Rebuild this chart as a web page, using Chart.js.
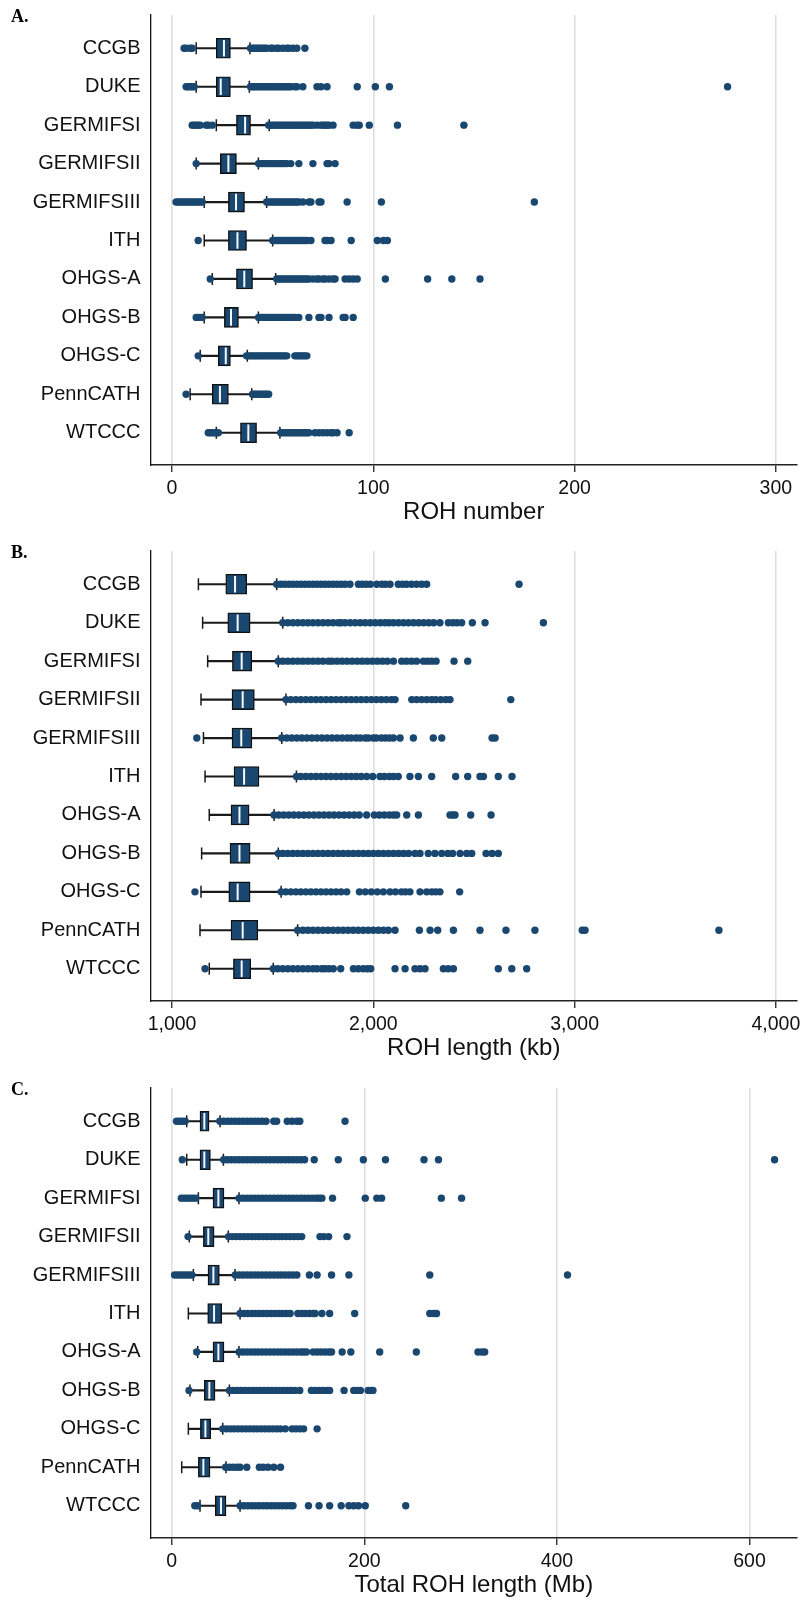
<!DOCTYPE html>
<html>
<head>
<meta charset="utf-8">
<script src="https://cdn.jsdelivr.net/npm/chart.js@4.4.0/dist/chart.umd.min.js"></script>
<style>
  html, body { margin: 0; padding: 0; background: #ffffff; }
  #wrap { position: relative; width: 803px; height: 1600px; overflow: hidden; background: #fff; }
  .pane { position: absolute; left: 0; width: 803px; }
  .letter { position: absolute; left: 11px; font: bold 18px/18px "Liberation Serif", "Times New Roman", serif; color: #000; }
</style>
</head>
<body>
<div id="wrap">
  <div class="pane" style="top:0px;height:536px;"><canvas id="cA" width="803" height="536"></canvas></div>
  <div class="pane" style="top:536px;height:537px;"><canvas id="cB" width="803" height="537"></canvas></div>
  <div class="pane" style="top:1073px;height:527px;"><canvas id="cC" width="803" height="527"></canvas></div>
  <div class="letter" style="top:7px;">A.</div>
  <div class="letter" style="top:543px;">B.</div>
  <div class="letter" style="top:1080px;">C.</div>
</div>
<script>
// ---------- categories ----------
const categories = ['CCGB', 'DUKE', 'GERMIFSI', 'GERMIFSII', 'GERMIFSIII', 'ITH', 'OHGS-A', 'OHGS-B', 'OHGS-C', 'PennCATH', 'WTCCC'];

// ---------- Panel A: ROH number ----------
const numTicks = [0, 100, 200, 300];
const numLow  = [12, 12, 22, 12, 16, 16, 20, 16, 14, 9, 22];
const numQ1   = [22, 22, 32, 24, 28, 28, 32, 26, 23, 20, 34];
const numMed  = [25.8, 24.2, 36.3, 28, 31.8, 32.5, 35.9, 29.3, 26.7, 23.8, 37.9];
const numQ3   = [29, 29, 39, 32, 36, 37, 40, 33, 29, 28, 42];
const numHigh = [38.7, 38.4, 48.3, 42.9, 47, 50, 51.5, 42.9, 37.4, 39.6, 53.6];
const numOut = [
  [6, 7, 9, 10, 39, 40, 41, 42, 43, 44, 45, 46, 47, 49, 50, 52, 53, 55, 57, 58, 60, 62, 66],
  [7, 8, 9, 10, 11, 39, 40, 41, 42, 43, 44, 45, 46, 47, 48, 49, 50, 51, 52, 53, 54, 55, 56, 57, 58, 59, 61, 62, 65, 72, 74, 77, 92, 101, 108, 276],
  [10, 11, 12, 13, 14, 17, 18, 20, 48, 49, 50, 51, 52, 53, 54, 55, 56, 57, 58, 59, 60, 61, 62, 63, 64, 65, 66, 67, 68, 69, 70, 72, 74, 75, 76, 77, 78, 80, 90, 92, 93, 98, 112, 145],
  [12, 43, 44, 45, 46, 47, 48, 49, 50, 51, 52, 53, 54, 55, 56, 57, 59, 63, 70, 77, 78, 81],
  [2, 3, 4, 5, 6, 7, 8, 9, 10, 11, 12, 13, 14, 15, 47, 48, 49, 50, 51, 52, 53, 54, 55, 56, 57, 58, 59, 60, 61, 62, 63, 65, 68, 69, 73, 74, 87, 104, 180],
  [13, 50, 51, 52, 53, 54, 55, 56, 57, 58, 59, 60, 61, 62, 63, 64, 65, 66, 67, 69, 76, 77, 79, 89, 102, 105, 107],
  [19, 52, 53, 54, 55, 56, 57, 58, 59, 60, 61, 62, 63, 64, 65, 66, 67, 68, 70, 72, 73, 75, 76, 78, 80, 81, 86, 88, 90, 92, 106, 127, 139, 153],
  [12, 13, 14, 15, 43, 44, 45, 46, 47, 48, 49, 50, 51, 52, 53, 54, 55, 56, 57, 58, 59, 60, 61, 63, 68, 73, 74, 78, 85, 86, 90],
  [13, 37, 38, 39, 40, 41, 42, 43, 44, 45, 46, 47, 48, 49, 50, 51, 52, 53, 54, 55, 56, 57, 61, 62, 63, 64, 65, 66, 67],
  [7, 40, 41, 42, 43, 44, 45, 46, 47, 48],
  [18, 19, 20, 21, 22, 23, 54, 55, 56, 57, 58, 59, 60, 61, 62, 63, 64, 65, 66, 67, 68, 71, 73, 75, 77, 79, 80, 82, 88]
];

// ---------- Panel B: ROH length (kb) ----------
const lenTicks = [1000, 2000, 3000, 4000];
const lenLow  = [1131, 1152, 1177, 1144, 1156, 1164, 1185, 1147, 1144, 1139, 1185];
const lenQ1   = [1267, 1277, 1300, 1298, 1298, 1308, 1293, 1288, 1282, 1293, 1305];
const lenMed  = [1313, 1326, 1346, 1351, 1344, 1358, 1335, 1335, 1326, 1351, 1346];
const lenQ3   = [1371, 1388, 1396, 1409, 1397, 1432, 1383, 1388, 1388, 1426, 1391];
const lenHigh = [1520, 1550, 1528, 1566, 1545, 1618, 1507, 1528, 1542, 1624, 1503];
const lenOut = [
  [1520, 1540, 1560, 1580, 1600, 1620, 1640, 1660, 1680, 1700, 1720, 1740, 1760, 1780, 1800, 1820, 1840, 1860, 1884, 1926, 1945, 1965, 1985, 2017, 2042, 2060, 2083, 2124, 2145, 2165, 2190, 2215, 2240, 2265, 2724],
  [1550, 1575, 1600, 1625, 1650, 1675, 1700, 1725, 1750, 1775, 1800, 1826, 1840, 1860, 1885, 1910, 1935, 1960, 1985, 2010, 2035, 2058, 2078, 2100, 2125, 2150, 2175, 2200, 2225, 2250, 2275, 2300, 2331, 2373, 2395, 2415, 2439, 2492, 2555, 2845],
  [1528, 1550, 1575, 1600, 1625, 1650, 1675, 1700, 1725, 1750, 1777, 1795, 1820, 1845, 1870, 1895, 1920, 1945, 1970, 1995, 2020, 2045, 2070, 2100, 2141, 2165, 2190, 2215, 2249, 2270, 2290, 2312, 2401, 2469],
  [1566, 1590, 1615, 1640, 1665, 1690, 1715, 1740, 1765, 1790, 1815, 1840, 1865, 1890, 1915, 1940, 1965, 1990, 2015, 2040, 2065, 2090, 2108, 2191, 2215, 2240, 2265, 2290, 2310, 2335, 2360, 2381, 2683],
  [1123, 1545, 1570, 1595, 1620, 1645, 1670, 1695, 1720, 1745, 1770, 1795, 1820, 1845, 1870, 1890, 1915, 1935, 1960, 1975, 2000, 2015, 2040, 2060, 2080, 2100, 2133, 2199, 2298, 2340, 2590, 2605],
  [1618, 1640, 1665, 1690, 1715, 1740, 1765, 1790, 1815, 1840, 1865, 1890, 1915, 1940, 1967, 1997, 2033, 2055, 2080, 2100, 2124, 2182, 2224, 2290, 2409, 2469, 2530, 2547, 2621, 2689],
  [1507, 1530, 1555, 1580, 1605, 1630, 1655, 1680, 1705, 1730, 1755, 1780, 1805, 1830, 1855, 1880, 1905, 1930, 1967, 2005, 2030, 2055, 2080, 2100, 2116, 2166, 2224, 2381, 2395, 2406, 2484, 2585],
  [1528, 1550, 1575, 1600, 1625, 1650, 1675, 1700, 1725, 1750, 1775, 1800, 1825, 1850, 1875, 1900, 1925, 1950, 1975, 2000, 2025, 2050, 2075, 2100, 2125, 2150, 2175, 2207, 2232, 2273, 2306, 2340, 2370, 2394, 2431, 2464, 2489, 2560, 2590, 2621],
  [1114, 1542, 1565, 1590, 1615, 1640, 1665, 1690, 1715, 1740, 1765, 1790, 1815, 1840, 1868, 1931, 1960, 1990, 2020, 2050, 2083, 2110, 2140, 2160, 2182, 2232, 2265, 2290, 2310, 2331, 2429],
  [1624, 1650, 1675, 1700, 1725, 1750, 1775, 1800, 1825, 1850, 1875, 1900, 1925, 1950, 1975, 2000, 2025, 2050, 2075, 2108, 2229, 2282, 2320, 2398, 2530, 2659, 2803, 3038, 3052, 3717],
  [1164, 1503, 1525, 1550, 1575, 1600, 1625, 1650, 1675, 1700, 1720, 1744, 1760, 1780, 1801, 1838, 1901, 1925, 1950, 1970, 1987, 2108, 2158, 2207, 2232, 2257, 2348, 2372, 2398, 2621, 2688, 2762]
];

// ---------- Panel C: Total ROH length (Mb) ----------
const totTicks = [0, 200, 400, 600];
const totLow  = [15.6, 15.6, 27.7, 18.3, 22.5, 17.3, 27, 19, 17.3, 10.4, 29.4];
const totQ1   = [29.4, 29.4, 42.9, 32.9, 37.7, 37.4, 42.9, 33.9, 29.8, 27.7, 45.3];
const totMed  = [33.9, 33.9, 48.5, 38, 43.3, 44, 48.5, 39.1, 35, 32.9, 51.2];
const totQ3   = [38.8, 40.2, 54.3, 44, 49.5, 51.9, 54.3, 45, 40.5, 39.8, 56.4];
const totHigh = [50.2, 53.7, 69.9, 58.8, 65.8, 71, 69.9, 59.9, 53, 56.4, 71];
const totOut = [
  [5, 8, 11, 14, 50, 54, 58, 62, 66, 70, 74, 78, 82, 86, 90, 94, 98, 106, 109, 120, 125, 130, 133, 180],
  [11, 54, 58, 62, 66, 70, 74, 78, 82, 86, 90, 94, 98, 102, 106, 110, 114, 118, 122, 126, 130, 134, 138, 148, 173, 199, 222, 262, 277, 626],
  [10, 13, 16, 19, 22, 25, 70, 74, 78, 82, 86, 90, 94, 98, 102, 106, 110, 114, 118, 122, 126, 130, 134, 138, 142, 146, 150, 153, 156, 167, 201, 213, 218, 280, 301],
  [17, 59, 63, 67, 71, 75, 79, 83, 87, 91, 95, 99, 103, 107, 111, 115, 119, 123, 127, 131, 135, 154, 158, 163, 182],
  [3, 6, 9, 12, 15, 18, 21, 66, 70, 74, 78, 82, 86, 90, 94, 98, 102, 106, 110, 114, 118, 122, 126, 130, 143, 151, 166, 184, 268, 411],
  [71, 75, 79, 83, 87, 91, 95, 99, 103, 107, 111, 115, 119, 123, 131, 135, 139, 143, 147, 149, 156, 164, 190, 268, 272, 275],
  [26, 70, 74, 78, 82, 86, 90, 94, 98, 102, 106, 110, 114, 118, 122, 126, 130, 134, 137, 140, 147, 151, 155, 159, 163, 166, 177, 186, 216, 254, 318, 322, 325],
  [18, 60, 64, 68, 72, 76, 80, 84, 88, 92, 96, 100, 104, 108, 112, 116, 120, 124, 128, 133, 145, 149, 153, 157, 161, 164, 179, 189, 193, 196, 204, 207, 209],
  [53, 57, 61, 65, 69, 73, 77, 81, 85, 89, 93, 97, 101, 105, 109, 113, 118, 125, 129, 133, 137, 151],
  [56, 60, 64, 68, 71, 78, 91, 95, 100, 106, 113],
  [24, 27, 71, 75, 79, 83, 87, 91, 95, 99, 103, 107, 111, 115, 119, 123, 126, 142, 153, 164, 176, 184, 189, 194, 201, 243]
];

// ---------- drawing ----------
const NAVY = 'rgb(26,71,111)';
const FONT = "'Liberation Sans', Arial, Helvetica, sans-serif";

function buildPanel(canvasId, s) {
  const idx = categories.map((_, i) => i);
  const datasets = [
    { // whisker line
      type: 'bar', grouped: false, order: 5, barThickness: 1.5,
      data: idx.map(i => ({ x: [s.low[i], s.high[i]], y: i })),
      backgroundColor: '#1a1a1a', borderWidth: 0
    },
    { // box
      type: 'bar', grouped: false, order: 4, barThickness: 20,
      data: idx.map(i => ({ x: [s.q1[i], s.q3[i]], y: i })),
      backgroundColor: NAVY, borderColor: '#111111', borderWidth: 1.4, borderSkipped: false
    },
    { // whisker caps
      type: 'scatter', order: 3,
      data: idx.flatMap(i => [{ x: s.low[i], y: i }, { x: s.high[i], y: i }]),
      pointStyle: 'line', pointRotation: 90, pointRadius: 6,
      pointBorderColor: '#1a1a1a', pointBorderWidth: 1.5, pointHoverRadius: 6
    },
    { // median
      type: 'scatter', order: 2,
      data: idx.map(i => ({ x: s.med[i], y: i })),
      pointStyle: 'line', pointRotation: 90, pointRadius: 8.3,
      pointBorderColor: '#f4f8fc', pointBorderWidth: 2, pointHoverRadius: 8.3
    },
    { // outside values
      type: 'scatter', order: 1,
      data: idx.flatMap(i => s.out[i].map(v => ({ x: v, y: i }))),
      pointStyle: 'circle', pointRadius: 3.7, pointBackgroundColor: NAVY,
      pointBorderWidth: 0, pointHoverRadius: 3.7
    }
  ];

  new Chart(document.getElementById(canvasId), {
    type: 'bar',
    data: { datasets },
    options: {
      indexAxis: 'y',
      responsive: false,
      animation: false,
      events: [],
      layout: { autoPadding: false, padding: { top: 15, right: 6, bottom: s.padBottom, left: 0 } },
      plugins: { legend: { display: false }, tooltip: { enabled: false }, title: { display: false } },
      scales: {
        x: {
          type: 'linear', position: 'bottom', min: s.xMin, max: s.xMax,
          offset: false, beginAtZero: false,
          afterBuildTicks: sc => { sc.ticks = s.ticks.map(v => ({ value: v })); },
          afterFit: sc => { sc.height = 62; sc.paddingLeft = 0; sc.paddingRight = 0; },
          ticks: {
            font: { family: FONT, size: 19.5 }, color: '#111', padding: 4.5,
            autoSkip: false, maxRotation: 0,
            callback: v => Number(v).toLocaleString('en-US')
          },
          grid: { color: '#dcdcdc', lineWidth: 1.5, drawTicks: true, tickLength: 7, tickColor: '#222', tickWidth: 1.3, offset: false },
          border: { display: true, color: '#222', width: 1.5 },
          title: { display: true, text: s.title, font: { family: FONT, size: 24 }, color: '#111', padding: 0 }
        },
        y: {
          type: 'linear', position: 'left', reverse: true, min: -0.866, max: 10.84,
          offset: false,
          afterBuildTicks: sc => { sc.ticks = categories.map((_, i) => ({ value: i })); },
          afterFit: sc => { sc.width = 150.5; sc.paddingTop = 0; sc.paddingBottom = 0; },
          ticks: {
            font: { family: FONT, size: 20 }, color: '#111', padding: 10, autoSkip: false,
            callback: v => (categories[v] !== undefined ? categories[v] : '')
          },
          grid: { display: false, drawTicks: false, tickLength: 0 },
          border: { display: true, color: '#111', width: 1.3 }
        }
      }
    }
  });
}

buildPanel('cA', { low: numLow, q1: numQ1, med: numMed, q3: numQ3, high: numHigh, out: numOut,
  ticks: numTicks, xMin: -10.7, xMax: 310.5, title: 'ROH number', padBottom: 9 });
buildPanel('cB', { low: lenLow, q1: lenQ1, med: lenMed, q3: lenQ3, high: lenHigh, out: lenOut,
  ticks: lenTicks, xMin: 893, xMax: 4105, title: 'ROH length (kb)', padBottom: 10 });
buildPanel('cC', { low: totLow, q1: totQ1, med: totMed, q3: totQ3, high: totHigh, out: totOut,
  ticks: totTicks, xMin: -22, xMax: 649.3, title: 'Total ROH length (Mb)', padBottom: 0 });
</script>
</body>
</html>
